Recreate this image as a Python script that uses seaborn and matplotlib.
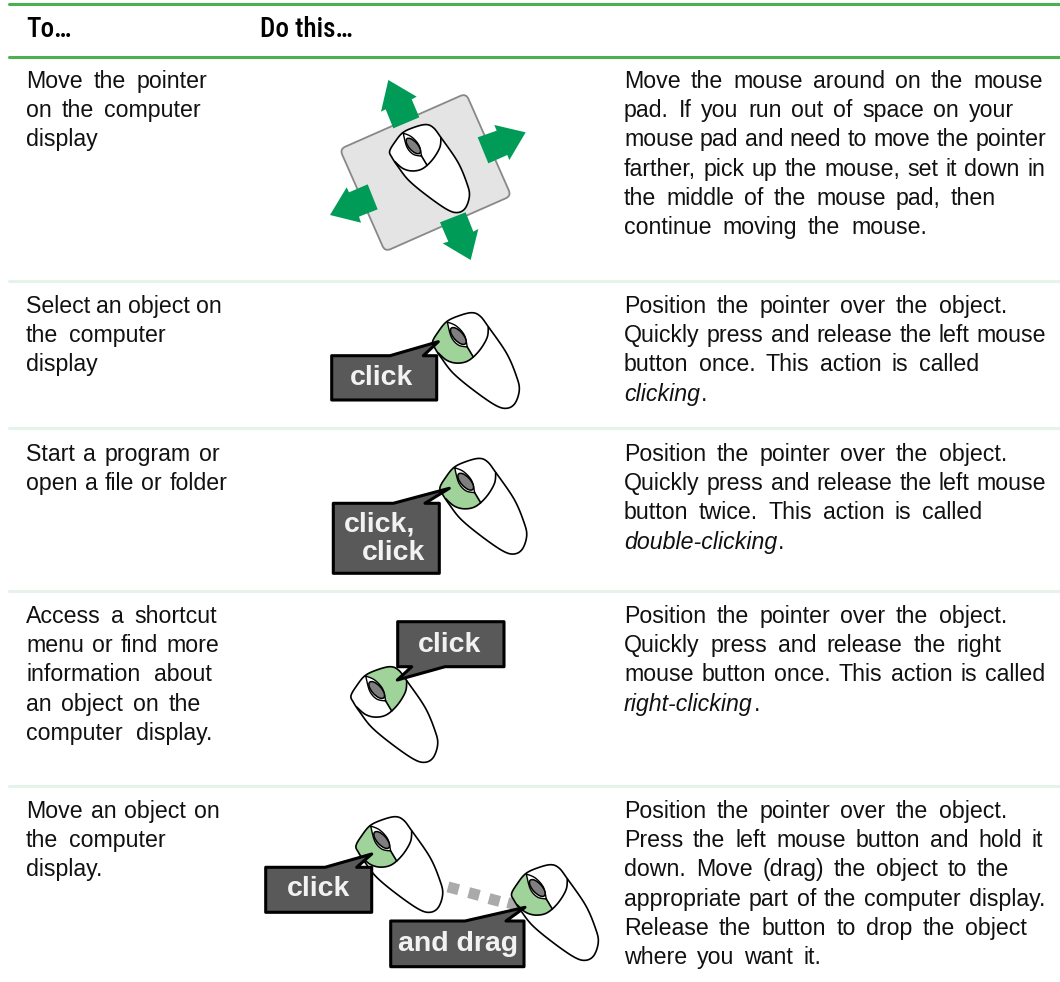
import numpy as np
import pandas as pd
import seaborn as sns
import matplotlib.pyplot as plt
from matplotlib import font_manager
from matplotlib.patches import Polygon, FancyBboxPatch, Rectangle, Ellipse
from matplotlib.transforms import Affine2D

W, H = 1060, 982

header_labels = ["To\u2026", "Do this\u2026"]
row_actions = [
    ["Move the pointer", "on the computer", "display"],
    ["Select an object on", "the computer", "display"],
    ["Start a program or", "open a file or folder"],
    ["Access a shortcut", "menu or find more", "information about", "an object on the", "computer display."],
    ["Move an object on", "the computer", "display."],
]
row_howto = [
    ["Move the mouse around on the mouse", "pad. If you run out of space on your", "mouse pad and need to move the pointer",
     "farther, pick up the mouse, set it down in", "the middle of the mouse pad, then", "continue moving the mouse."],
    ["Position the pointer over the object.", "Quickly press and release the left mouse", "button once. This action is called", "clicking"],
    ["Position the pointer over the object.", "Quickly press and release the left mouse", "button twice. This action is called", "double-clicking"],
    ["Position the pointer over the object.", "Quickly press and release the right", "mouse button once. This action is called", "right-clicking"],
    ["Position the pointer over the object.", "Press the left mouse button and hold it", "down. Move (drag) the object to the",
     "appropriate part of the computer display.", "Release the button to drop the object", "where you want it."],
]
# where each line ends (the original text is justified by hand)
action_ends = [[207, 201, 99], [222, 166, 99], [220, 227], [217, 219, 212, 201, 212], [220, 166, 99]]
howto_ends = [[1043, 1014, 1046, 1045, 996, 927], [1007, 1046, 979, None], [1007, 1046, 982, None],
              [1007, 1001, 1045, None], [1007, 1043, 1009, 1045, 1027, 821]]
row_base = [87.7, 312.7, 460.7, 622.7, 817.7]
row_rules = [280.7, 428, 591, 785.7]

GREEN = "#4cb050"
PALE = "#e6f3e8"
ARROW = "#009b56"
BUTTON = "#9fd39a"
BUBBLE = "#595959"
INK = "#111111"
TEXT_SIZE = 16.7
LINE = 29.3

sns.set_theme(style="white")
plt.rcParams["font.family"] = ["Liberation Sans", "DejaVu Sans"]

installed = {f.name for f in font_manager.fontManager.ttflist}
narrow = [n for n in ["Liberation Sans Narrow", "Roboto Condensed", "Archivo Narrow", "PT Sans Narrow", "Open Sans Condensed"] if n in installed]
header_family = (narrow + ["Liberation Sans"])[0]

fig = plt.figure(figsize=(W / 100, H / 100), dpi=100)
ax = fig.add_axes([0, 0, 1, 1])

rules = pd.DataFrame({
    "x": [9, W] * (2 + len(row_rules)),
    "y": sum([[v, v] for v in [3.5, 56.5] + row_rules], []),
    "rule": sum([[i, i] for i in range(2 + len(row_rules))], []),
})
sns.lineplot(data=rules[rules.rule < 2], x="x", y="y", units="rule", estimator=None, color=GREEN, lw=2.2, ax=ax)
sns.lineplot(data=rules[rules.rule >= 2], x="x", y="y", units="rule", estimator=None, color=PALE, lw=2.2, ax=ax)
ax.set_xlim(0, W)
ax.set_ylim(H, 0)
ax.axis("off")
renderer = fig.canvas.get_renderer()


def spline(pts, closed=False, n=10):
    # catmull-rom through the points
    pts = np.array(pts, float)
    out = []
    m = len(pts)
    segs = m if closed else m - 1
    for i in range(segs):
        if closed:
            p0, p1, p2, p3 = pts[(i - 1) % m], pts[i], pts[(i + 1) % m], pts[(i + 2) % m]
        else:
            p0, p1, p2, p3 = pts[max(i - 1, 0)], pts[i], pts[i + 1], pts[min(i + 2, m - 1)]
        for t in np.linspace(0, 1, n, endpoint=False):
            out.append(0.5 * (2 * p1 + (p2 - p0) * t + (2 * p0 - 5 * p1 + 4 * p2 - p3) * t ** 2 + (3 * p1 - p0 - 3 * p2 + p3) * t ** 3))
    if not closed:
        out.append(pts[-1])
    return np.array(out)


body = [(13.3, -23.3), (21.7, -20), (30, -9.3), (48.3, 17.3), (58.3, 40.7), (61, 54), (56.7, 67.3), (48.3, 72.3), (36.7, 69),
        (15, 54), (-5, 37.3), (-16.7, 22.3), (-23.3, 12.3), (-25.7, 5.7), (-20, -4.3), (-11.7, -14.3), (0, -20)]
arc = [(-20, 17), (-12, 24), (-3, 27), (7, 26), (15, 21), (23, 12), (29, 1), (30, -9)]
lens_right = [(-11, -14), (-2, -10), (6, -1), (9, 11)]
lens_left = [(-11, -14), (-7, 1), (0, 9), (9, 11)]
left_green = np.vstack([spline(lens_left), spline([(15, 21), (7, 26), (-3, 27), (-12, 24), (-20, 17)]),
                        spline([(-20, 17), (-25.7, 5.7), (-20, -4.3), (-11.7, -14.3)])])
right_green = np.vstack([spline([(-11.7, -14.3), (0, -20), (13.3, -23.3), (21.7, -20), (30, -9.3)]),
                         spline([(30, -9), (29, 1), (23, 12), (15, 21)]), spline(lens_right)[::-1]])
lens = np.vstack([spline(lens_right), spline(lens_left)[::-1]])


def draw_mouse(cx, cy, scale=1.0, button=None, z=3):
    place = lambda p: np.array(p) * scale + (cx, cy)
    outline = place(spline(body, closed=True))
    ax.add_patch(Polygon(outline, fc="white", ec="none", zorder=z))
    if button is not None:
        shape = left_green if button == "left" else right_green
        ax.add_patch(Polygon(place(shape), fc=BUTTON, ec="none", zorder=z))
    ax.add_patch(Polygon(outline, fc="none", ec="black", lw=1.2, zorder=z))
    ax.plot(*place(spline(arc)).T, color="black", lw=1.2, zorder=z + 0.1)
    ax.plot(*place([(9, 11), (15, 21)]).T, color="black", lw=1.2, zorder=z + 0.1)
    ax.add_patch(Polygon(place(lens), fc="white", ec="black", lw=1.0, zorder=z + 0.1))
    ax.add_patch(Ellipse((cx, cy), 21 * scale, 9.5 * scale, angle=48, fc="#7f7f7f", ec="black", lw=1.1, zorder=z + 0.2))


def draw_bubble(x0, y0, x1, y1, tail, labels, z=6):
    if tail[1][1] < y0:
        pts = [(x0, y0), tail[0], tail[1], tail[2], (x1, y0), (x1, y1), (x0, y1)]
    else:
        pts = [(x0, y0), (x1, y0), (x1, y1), tail[0], tail[1], tail[2], (x0, y1)]
    ax.add_patch(Polygon(pts, fc=BUBBLE, ec="black", lw=2.2, joinstyle="round", zorder=z))
    for tx, ty, s in labels:
        ax.text(tx, ty, s, color="#f2f2f2", fontsize=20.5, fontweight="bold", ha="center", va="center", zorder=z + 1)


def draw_line(x0, y, s, end):
    # words placed one at a time so each line ends where it does in the picture
    if end is None:
        t = ax.text(x0, y, s, fontsize=TEXT_SIZE, color=INK, style="italic", va="baseline")
        right = t.get_window_extent(renderer).x1
        ax.text(right + 1, y, ".", fontsize=TEXT_SIZE, color=INK, va="baseline")
        return
    words = s.split(" ")
    items = [ax.text(x0, y, w, fontsize=TEXT_SIZE, color=INK, va="baseline") for w in words]
    widths = [t.get_window_extent(renderer).width for t in items]
    gap = (end - x0 - sum(widths)) / max(len(words) - 1, 1)
    x = x0
    for t, w in zip(items, widths):
        t.set_x(x)
        x += w + gap


# header
for x, s in zip([26, 260], header_labels):
    ax.text(x, 36.7, s, fontsize=19.5, fontweight="medium", family=header_family, color="black", va="baseline")

# table text
for base, left_lines, left_ends, right_lines, right_ends in zip(row_base, row_actions, action_ends, row_howto, howto_ends):
    for i, (s, e) in enumerate(zip(left_lines, left_ends)):
        draw_line(26, base + i * LINE, s, e)
    for i, (s, e) in enumerate(zip(right_lines, right_ends)):
        draw_line(624, base + i * LINE, s, e)

# row 1: mouse pad and arrows
pad_rot = Affine2D().rotate_deg_around(425.5, 172.5, -23.8) + ax.transData
ax.add_patch(FancyBboxPatch((425.5 - 64, 172.5 - 51), 128, 102, boxstyle="round,pad=5,rounding_size=6",
                            fc="#e4e4e4", ec="#888888", lw=1.3, transform=pad_rot, zorder=1))
arrows = [
    [(265, 60), (350, 110), (335, 118), (358, 172), (280, 205), (257, 148), (243, 155)],
    [(677, 217), (628, 300), (622, 285), (565, 310), (533, 232), (590, 212), (583, 195)],
    [(512, 600), (428, 550), (445, 545), (420, 487), (497, 457), (520, 515), (535, 507)],
    [(90, 465), (140, 382), (147, 397), (203, 373), (233, 448), (177, 470), (183, 488)],
]
for a in arrows:
    ax.add_patch(Polygon(np.array(a) / 3 + (300, 60), fc=ARROW, ec="none", zorder=2))
draw_mouse(413.3, 146, 0.92)

# row 2
draw_mouse(458.3, 336, 1.0, "left")
draw_bubble(331.7, 355.7, 436.7, 400, [(390, 355.7), (438.3, 341.7), (423.3, 355.7)], [(381.7, 378.3, "click")])

# row 3
draw_mouse(465.7, 481.7, 1.0, "left")
draw_bubble(333.3, 503.3, 439.3, 573.3, [(393.3, 503.3), (449.3, 488.3), (425, 503.3)], [(379.3, 525, "click,"), (393.3, 553.3, "click")])

# row 4
draw_mouse(376.7, 690, 1.0, "right")
draw_bubble(397.7, 621.7, 504, 666.7, [(445, 666.7), (397.3, 680), (411.7, 666.7)], [(450, 645, "click")])

# row 5
drag_squares = [(453.3, 888.3), (474, 894), (494.3, 900), (513, 904)]
for sx, sy in drag_squares:
    rot = Affine2D().rotate_deg_around(sx, sy, 15) + ax.transData
    ax.add_patch(Rectangle((sx - 5.5, sy - 5.5), 11, 11, fc="#aaaaaa", ec="none", transform=rot, zorder=2))
draw_mouse(381.7, 840, 1.0, "left")
draw_mouse(537.3, 888, 1.0, "left")
draw_bubble(265.7, 867.3, 371.7, 912.3, [(325, 867.3), (371.7, 854), (356.7, 867.3)], [(318.3, 889, "click")])
draw_bubble(390.7, 921, 524, 966.7, [(465, 921), (525, 907.3), (506, 921)], [(458.3, 944.3, "and drag")])

fig.savefig("out.png", dpi=100)
